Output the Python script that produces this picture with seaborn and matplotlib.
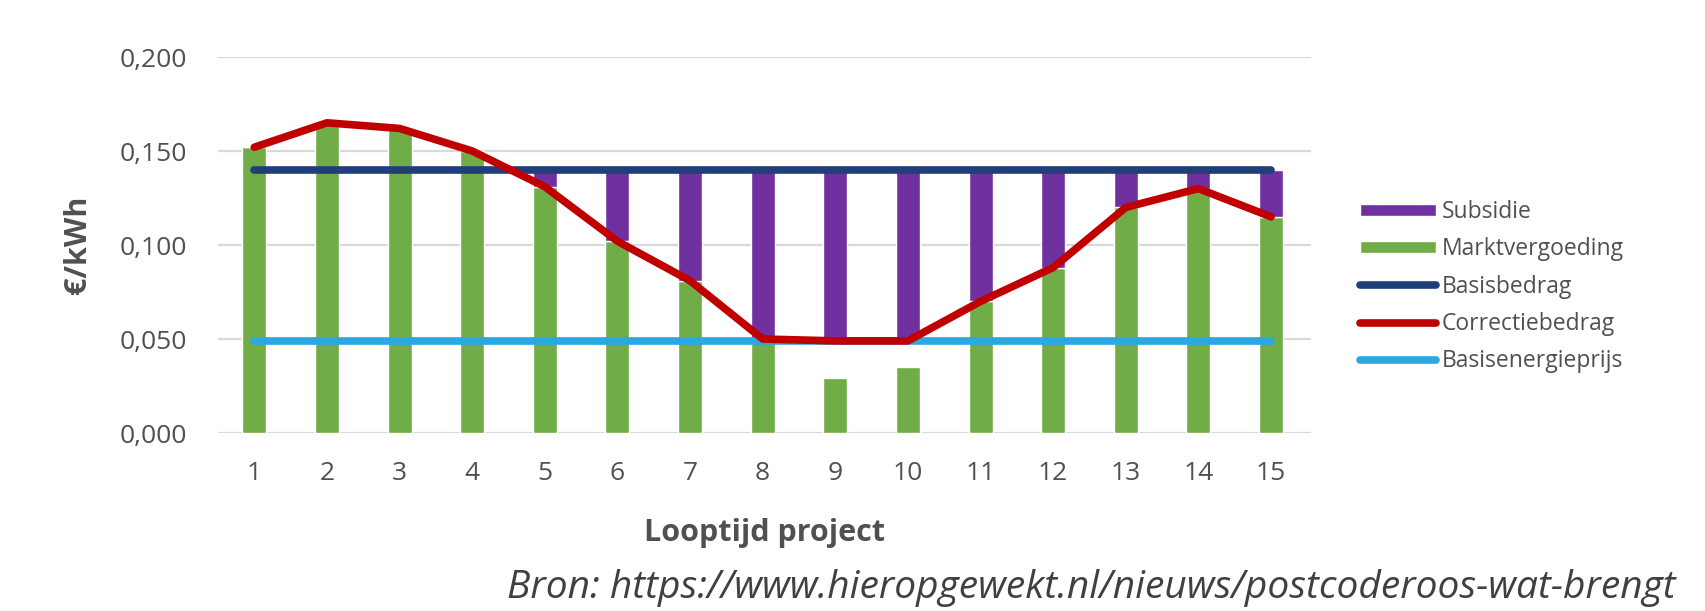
import numpy as np
import pandas as pd
import matplotlib
matplotlib.use("Agg")
import matplotlib.pyplot as plt
import seaborn as sns

# Data
years = [str(i) for i in range(1, 16)]
marktvergoeding = [0.152, 0.165, 0.162, 0.150, 0.131, 0.102, 0.081, 0.050,
                   0.029, 0.035, 0.070, 0.088, 0.120, 0.130, 0.115]
correctiebedrag = [0.152, 0.165, 0.162, 0.150, 0.131, 0.102, 0.081, 0.050,
                   0.049, 0.049, 0.070, 0.088, 0.120, 0.130, 0.115]
basisbedrag = [0.140, 0.140, 0.140, 0.140, 0.140, 0.140, 0.140, 0.140,
               0.140, 0.140, 0.140, 0.140, 0.140, 0.140, 0.140]
basisenergieprijs = [0.049, 0.049, 0.049, 0.049, 0.049, 0.049, 0.049, 0.049,
                     0.049, 0.049, 0.049, 0.049, 0.049, 0.049, 0.049]
subsidie = [0.000, 0.000, 0.000, 0.000, 0.009, 0.038, 0.059, 0.090,
            0.091, 0.091, 0.070, 0.052, 0.020, 0.010, 0.025]
yticks = [0.0, 0.05, 0.10, 0.15, 0.20]
ytick_labels = ["0,000", "0,050", "0,100", "0,150", "0,200"]

df = pd.DataFrame({
    "jaar": years,
    "Marktvergoeding": marktvergoeding,
    "Subsidie": subsidie,
    "Correctiebedrag": correctiebedrag,
    "Basisbedrag": basisbedrag,
    "Basisenergieprijs": basisenergieprijs,
})

sns.set_style("white")
plt.rcParams["font.family"] = ["Open Sans", "DejaVu Sans"]

C_PURPLE = "#7030A0"
C_GREEN = "#70AD47"
C_NAVY = "#203F78"
C_RED = "#C00000"
C_CYAN = "#2BA8E0"
TXT = "#505050"

fig = plt.figure(figsize=(17.06, 6.11), dpi=100)
ax = fig.add_axes([218 / 1706, 1 - 433 / 611, 1093 / 1706, 376 / 611])

sns.barplot(data=df, x="jaar", y="Marktvergoeding", color=C_GREEN, width=0.33,
            saturation=1, label="Marktvergoeding", ax=ax, zorder=2)
sns.barplot(data=df, x="jaar", y="Subsidie", color=C_PURPLE, width=0.33,
            saturation=1, bottom=df["Correctiebedrag"].to_numpy(),
            label="Subsidie", ax=ax, zorder=2)

sns.pointplot(data=df, x="jaar", y="Basisbedrag", color=C_NAVY, markers="",
              lw=5.5, solid_capstyle="round", label="Basisbedrag", ax=ax)
sns.pointplot(data=df, x="jaar", y="Basisenergieprijs", color=C_CYAN, markers="",
              lw=5.5, solid_capstyle="round", label="Basisenergieprijs", ax=ax)
sns.pointplot(data=df, x="jaar", y="Correctiebedrag", color=C_RED, markers="",
              lw=5.5, solid_capstyle="round", solid_joinstyle="round",
              label="Correctiebedrag", ax=ax)

ax.set_xlim(-0.5, 14.55)
ax.set_ylim(0, 0.2)
ax.set_yticks(yticks)
ax.set_yticklabels(ytick_labels)
ax.yaxis.grid(True, color="#D9D9D9", lw=1.6, zorder=0)
ax.set_axisbelow(True)
sns.despine(ax=ax, left=True, bottom=True)
ax.tick_params(axis="both", length=0, labelsize=19, colors=TXT)
ax.tick_params(axis="y", pad=22)
ax.tick_params(axis="x", pad=20)

ax.set_xlabel("Looptijd project", fontsize=22, fontweight="bold", color=TXT)
ax.xaxis.set_label_coords(0.5, (433 - 533) / 376)
ax.xaxis.label.set_va("center")
ax.set_ylabel("€/kWh", fontsize=22, fontweight="bold", color=TXT)
ax.yaxis.set_label_coords((78 - 218) / 1093, 0.5)
ax.yaxis.label.set_va("center")
ax.yaxis.label.set_ha("center")

handles, labels = ax.get_legend_handles_labels()
order = ["Subsidie", "Marktvergoeding", "Basisbedrag", "Correctiebedrag", "Basisenergieprijs"]
hmap = dict(zip(labels, handles))
leg = ax.legend([hmap[k] for k in order], order, loc="upper left",
                bbox_to_anchor=(1360 / 1706, 1 - 200 / 611),
                bbox_transform=fig.transFigure, frameon=False,
                borderaxespad=0, borderpad=0, fontsize=16.5,
                handlelength=3.3, handleheight=0.45, handletextpad=0.25,
                labelspacing=0.58)
for t in leg.get_texts():
    t.set_color(TXT)

fig.text(507 / 1706, 1 - 588 / 611,
         "Bron: https://www.hieropgewekt.nl/nieuws/postcoderoos-wat-brengt",
         fontsize=28, style="italic", color="#404040", va="center", ha="left")

fig.savefig("out.png", dpi=100, facecolor="white")
